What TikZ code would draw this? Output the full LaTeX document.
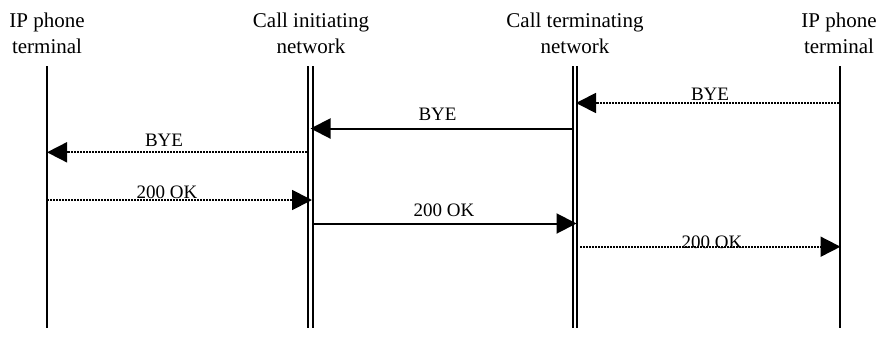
\documentclass[tikz,border=0pt]{standalone}
\usepackage{fontspec}
\setmainfont{Liberation Serif}
\usetikzlibrary{arrows.meta}
\begin{document}
\begin{tikzpicture}[x=1pt,y=-1pt,
  head/.style={font=\fontsize{21}{26}\selectfont, align=center, inner sep=0pt, anchor=base},
  lbl/.style={font=\fontsize{19}{23}\selectfont, inner sep=0pt, anchor=base},
  life/.style={line width=2pt},
  dlife/.style={line width=2pt, double, double distance=2.7pt},
  msg/.style={line width=2pt, -{Triangle[length=20pt,width=20pt]}},
  dmsg/.style={line width=1.8pt, dash pattern=on 1.6pt off 1.4pt, -{Triangle[length=20pt,width=20pt]}}
]
\useasboundingbox (0,0) rectangle (881,338);

% headers (anchor base = baseline of last line)
\node[head] (h1) at (47,53.5) {IP phone\\terminal};
\node[head] (h2) at (311,53.5) {Call initiating\\network};
\node[head] (h3) at (575,53.5) {Call terminating\\network};
\node[head] (h4) at (839,53.5) {IP phone\\terminal};

% lifelines
\coordinate (t1) at (47,66);   \coordinate (b1) at (47,328);
\coordinate (t2) at (310.6,66); \coordinate (b2) at (310.6,328);
\coordinate (t3) at (574.9,66); \coordinate (b3) at (574.9,328);
\coordinate (t4) at (839.5,66); \coordinate (b4) at (839.5,328);
\draw[life] (t1) -- (b1);
\draw[dlife] (t2) -- (b2);
\draw[dlife] (t3) -- (b3);
\draw[life] (t4) -- (b4);

% message end points
\coordinate (m1s) at (839,103);   \coordinate (m1e) at (576,103);
\coordinate (m2s) at (572,128.5); \coordinate (m2e) at (310.5,128.5);
\coordinate (m3s) at (307,152.3); \coordinate (m3e) at (47,152.3);
\coordinate (m4s) at (47,200);    \coordinate (m4e) at (312,200);
\coordinate (m5s) at (314,223.5); \coordinate (m5e) at (576.5,223.5);
\coordinate (m6s) at (580,246.7); \coordinate (m6e) at (840.5,246.7);

\draw[dmsg] (m1s) -- (m1e);
\draw[msg]  (m2s) -- (m2e);
\draw[dmsg] (m3s) -- (m3e);
\draw[dmsg] (m4s) -- (m4e);
\draw[msg]  (m5s) -- (m5e);
\draw[dmsg] (m6s) -- (m6e);

% labels
\node[lbl] (l1) at (710,100) {BYE};
\node[lbl] (l2) at (437.5,120) {BYE};
\node[lbl] (l3) at (164,146) {BYE};
\node[lbl] (l4) at (167,198.3) {200 OK};
\node[lbl] (l5) at (444,216) {200 OK};
\node[lbl] (l6) at (712,248.3) {200 OK};
\end{tikzpicture}
\end{document}
